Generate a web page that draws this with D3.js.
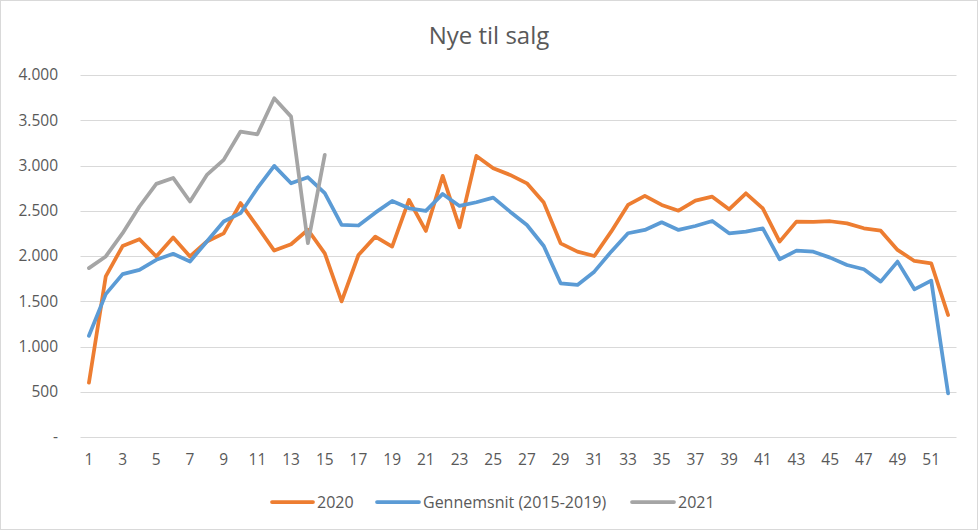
<!DOCTYPE html>
<html>
<head>
<meta charset="utf-8">
<script src="https://cdn.jsdelivr.net/npm/d3@7/dist/d3.min.js"></script>
<style>
  html, body { margin: 0; padding: 0; background: #fff; }
  svg { display: block; font-family: "Open Sans", "Noto Sans", sans-serif; }
</style>
</head>
<body>
<svg id="chart" width="980" height="532"></svg>
<script>
const weeks = d3.range(1, 53);
const series2020 = [600,1775,2110,2185,1995,2205,1995,2160,2250,2585,2325,2060,2130,2290,2030,1498,2011,2214,2104,2619,2277,2885,2317,3106,2969,2896,2803,2590,2140,2048,2000,2269,2564,2664,2564,2501,2612,2656,2516,2693,2527,2159,2380,2376,2384,2361,2306,2280,2067,1945,1919,1348];
const seriesAvg = [1119,1579,1800,1847,1958,2024,1939,2160,2381,2473,2749,2996,2804,2870,2694,2344,2337,2479,2608,2527,2498,2686,2553,2594,2645,2490,2343,2111,1698,1680,1827,2048,2251,2288,2372,2288,2332,2387,2251,2269,2306,1964,2059,2048,1982,1901,1853,1717,1938,1632,1728,483];
const series2021 = [1866,1995,2252,2547,2797,2863,2602,2896,3062,3375,3345,3743,3540,2142,3117];
const yTicks = [0,500,1000,1500,2000,2500,3000,3500,4000];
const xTickLabels = d3.range(1, 53, 2);
const seriesNames = ["2020", "Gennemsnit (2015-2019)", "2021"];
const seriesColors = ["#ED7D31", "#5B9BD5", "#A5A5A5"];
const title = "Nye til salg";

(function () {
const svg = d3.select("#chart");
const pLeft = 80.5, pRight = 956.5, pTop = 75, pBottom = 437;

svg.append("rect").attr("x", 0.5).attr("y", 0.5).attr("width", 977).attr("height", 529)
  .attr("fill", "#fff").attr("stroke", "#D9D9D9").attr("stroke-width", 1);

const x = d3.scaleBand().domain(weeks).range([pLeft, pRight]);
const xc = d => x(d) + x.bandwidth() / 2;
const y = d3.scaleLinear().domain([0, 4000]).range([pBottom, pTop]);

const fmt = v => v === 0 ? "-" : d3.format(",")(v).replace(/,/g, ".");

svg.append("g").selectAll("line").data(yTicks).join("line")
  .attr("x1", pLeft).attr("x2", pRight)
  .attr("y1", d => Math.round(y(d)) + 0.5).attr("y2", d => Math.round(y(d)) + 0.5)
  .attr("stroke", "#D9D9D9").attr("stroke-width", 1);

svg.append("g").selectAll("text").data(yTicks).join("text")
  .attr("x", 58).attr("y", d => y(d)).attr("dy", "0.35em")
  .attr("text-anchor", "end").attr("font-size", 15.5).attr("fill", "#595959")
  .text(fmt);

svg.append("g").selectAll("text").data(xTickLabels).join("text")
  .attr("x", d => xc(d)).attr("y", 465)
  .attr("text-anchor", "middle").attr("font-size", 15.5).attr("fill", "#595959")
  .text(d => d);

svg.append("text").attr("x", 489).attr("y", 44).attr("text-anchor", "middle")
  .attr("font-size", 24).attr("fill", "#595959").text(title);

const line = d3.line().x((d, i) => xc(weeks[i])).y(d => y(d));
const allSeries = [series2020, seriesAvg, series2021];
allSeries.forEach((s, i) => {
  svg.append("path").datum(s).attr("d", line)
    .attr("fill", "none").attr("stroke", seriesColors[i]).attr("stroke-width", 3.75)
    .attr("stroke-linejoin", "round").attr("stroke-linecap", "round");
});

const legendItems = [
  {x1: 272, x2: 313, tx: 317},
  {x1: 377, x2: 419, tx: 423},
  {x1: 632, x2: 674, tx: 678}
];
legendItems.forEach((it, i) => {
  svg.append("line").attr("x1", it.x1).attr("x2", it.x2).attr("y1", 502).attr("y2", 502)
    .attr("stroke", seriesColors[i]).attr("stroke-width", 3.75).attr("stroke-linecap", "round");
  svg.append("text").attr("x", it.tx).attr("y", 502).attr("dy", "0.35em")
    .attr("font-size", 16).attr("fill", "#595959").text(seriesNames[i]);
});
})();
</script>
</body>
</html>
